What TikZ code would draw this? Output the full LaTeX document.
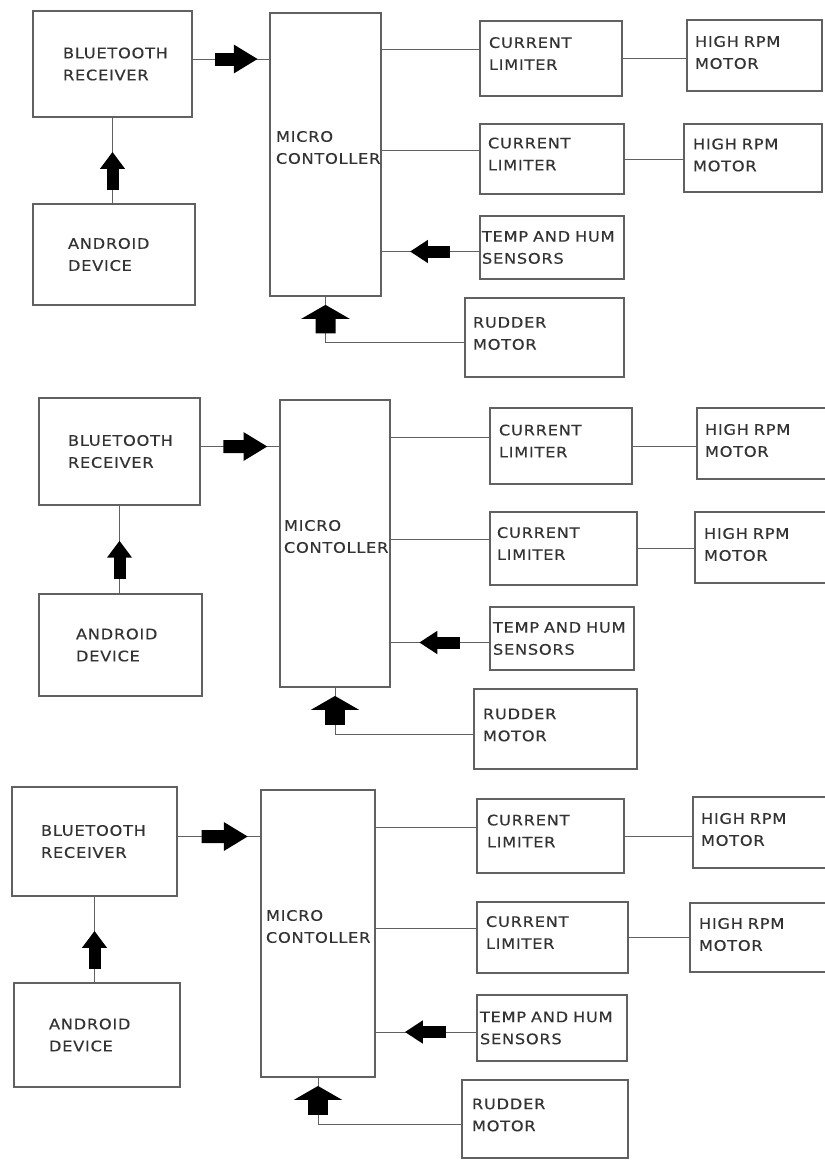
\documentclass[tikz,border=0pt]{standalone}
\usepackage{fontspec}
\newfontfamily\boxfont[FakeStretch=1.12,LetterSpace=5,FakeBold=0.3]{DejaVu Sans}
\usetikzlibrary{calc}
\usetikzlibrary{arrows.meta}
\hyphenpenalty=10000
\tikzset{blk/.style={draw=black!62,line width=1.2pt,rectangle,align=left,inner ysep=0pt,
    text=black!80,font={\boxfont\fontsize{14.5}{22}\selectfont}}}
\tikzset{wire/.style={draw=black!62,line width=1pt}}
\tikzset{fat/.style={black,line cap=butt}}
% block: name, x1, y1, x2, y2, left pad, lift, text
\newcommand\blk[8]{{
  \pgfmathsetmacro\bw{#4-#2}
  \pgfmathsetmacro\bh{#5-#3}
  \pgfmathsetmacro\tw{#4-#2-2*#6}
  \node[blk,inner xsep=#6pt,minimum width=\bw pt,minimum height=\bh pt,text width=\tw pt]
    (#1) at ({(#2+#4)/2},{(#3+#5)/2}) {#8\par\vspace*{#7pt}};
}}
% thick block arrow: shaft, head width, head length, from, to
\newcommand\fatarrow[5]{
  \draw[fat,line width=#1,-{Triangle[width=#2,length=#3]}] #4 -- #5;
}

\begin{document}
\begin{tikzpicture}[x=1pt,y=-1pt]
  \useasboundingbox (0,0) rectangle (825,1160);
  \fill[white] (0,0) rectangle (825,1160);

  % FIRST
  \blk{btA}{33}{11}{192}{117}{30}{0}{BLUETOOTH\\RECEIVER}
  \blk{andA}{33}{204}{195}{305}{35}{0}{ANDROID\\DEVICE}
  \blk{mcA}{270}{13}{381}{296}{6}{14}{MICRO\\CONTOLLER}
  \blk{limA1}{480}{21}{622}{96}{9}{10}{CURRENT\\LIMITER}
  \blk{motA1}{687}{20}{822}{91}{8}{6}{HIGH~RPM\\MOTOR}
  \blk{limA2}{480}{124}{624}{194}{8}{10}{CURRENT\\LIMITER}
  \blk{motA2}{684}{124}{822}{192}{9}{6}{HIGH~RPM\\MOTOR}
  \blk{senA}{480}{216}{624}{279}{2}{0}{TEMP~AND~HUM\\SENSORS}
  \blk{rudA}{465}{298}{624}{377}{8}{8}{RUDDER\\MOTOR}

  % SECOND
  \blk{btB}{39}{398}{200}{505}{29}{0}{BLUETOOTH\\RECEIVER}
  \blk{andB}{39}{594}{202}{696}{37}{0}{ANDROID\\DEVICE}
  \blk{mcB}{280}{400}{390}{687}{4}{14}{MICRO\\CONTOLLER}
  \blk{limB1}{490}{408}{632}{484}{9}{10}{CURRENT\\LIMITER}
  \blk{motB1}{697}{408}{828}{479}{8}{6}{HIGH~RPM\\MOTOR}
  \blk{limB2}{490}{512}{637}{585}{7}{10}{CURRENT\\LIMITER}
  \blk{motB2}{695}{512}{828}{583}{9}{6}{HIGH~RPM\\MOTOR}
  \blk{senB}{490}{607}{634}{670}{3}{0}{TEMP~AND~HUM\\SENSORS}
  \blk{rudB}{474}{689}{637}{769}{9}{8}{RUDDER\\MOTOR}

  % THIRD
  \blk{btC}{12}{787}{177}{896}{29}{0}{BLUETOOTH\\RECEIVER}
  \blk{andC}{14}{983}{180}{1087}{35}{0}{ANDROID\\DEVICE}
  \blk{mcC}{261}{790}{375}{1077}{5}{14}{MICRO\\CONTOLLER}
  \blk{limC1}{477}{799}{624}{873}{10}{10}{CURRENT\\LIMITER}
  \blk{motC1}{693}{797}{828}{868}{8}{6}{HIGH~RPM\\MOTOR}
  \blk{limC2}{477}{902}{628}{973}{9}{10}{CURRENT\\LIMITER}
  \blk{motC2}{690}{903}{828}{972}{9}{6}{HIGH~RPM\\MOTOR}
  \blk{senC}{477}{995}{627}{1061}{3}{0}{TEMP~AND~HUM\\SENSORS}
  \blk{rudC}{462}{1080}{628}{1158}{10}{8}{RUDDER\\MOTOR}

  % LINKS
  \foreach \p in {A,B,C}{
    \draw[wire] (bt\p.south) coordinate (s) -- (s |- and\p.north) coordinate (t);
    \fatarrow{12pt}{24pt}{17pt}{($(t)!.16!(s)$)}{($(t)!.6!(s)$)}
    \draw[wire] ([yshift=5pt]bt\p.east) coordinate (s) -- (s -| mc\p.west) coordinate (t);
    \fatarrow{13pt}{27pt}{24pt}{($(s)!.29!(t)$)}{($(s)!.85!(t)$)}
    \draw[wire] ([yshift=9pt]lim\p1.west) coordinate (s) -- (s -| mc\p.east);
    \draw[wire] ([yshift=9pt]lim\p2.west) coordinate (s) -- (s -| mc\p.east);
    \draw[wire] (lim\p1.east) -- (lim\p1.east -| mot\p1.west);
    \draw[wire] (lim\p2.east) -- (lim\p2.east -| mot\p2.west);
    \draw[wire] ([yshift=-4pt]sen\p.west) coordinate (s) -- (s -| mc\p.east) coordinate (t);
    \fatarrow{12pt}{22pt}{18pt}{($(s)!.3!(t)$)}{($(s)!.71!(t)$)}
    \draw[wire] ([yshift=-5pt]rud\p.west) coordinate (s) -| (mc\p.south) coordinate (t);
    \fatarrow{20pt}{48pt}{14pt}{($(t)!.8!(t |- s)$)}{($(t)!.18!(t |- s)$)}
  }
\end{tikzpicture}
\end{document}
